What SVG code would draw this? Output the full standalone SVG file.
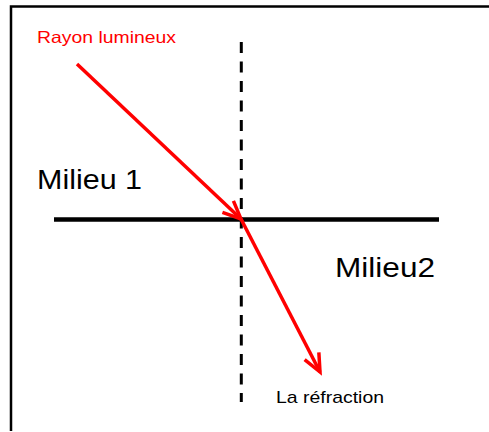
<svg xmlns="http://www.w3.org/2000/svg" width="489" height="432" viewBox="0 0 489 432">
<style>
.lbl{font-family:"Liberation Sans",Arial,sans-serif;fill:#000}
.ray{stroke:#f00;stroke-width:3.5;fill:none}
</style>
<defs>
<marker id="ah" markerUnits="userSpaceOnUse" markerWidth="40" markerHeight="40" viewBox="-25 -20 30 40" refX="0" refY="0" orient="auto" overflow="visible">
<path d="M-18,-8 L0,0 L-18,8" fill="none" stroke="#f00" stroke-width="3.5" stroke-linejoin="miter"/>
</marker>
</defs>
<rect width="489" height="432" fill="#fff"/>
<g id="frame">
<path d="M11,431 V6.5 H489" fill="none" stroke="#000" stroke-width="2.5"/>
</g>
<g id="connectors">
<line id="interface" x1="54" y1="219.5" x2="439" y2="219.5" stroke="#000" stroke-width="4.5"/>
<line id="normal" x1="241.3" y1="42" x2="241.3" y2="402" stroke="#000" stroke-width="3" stroke-dasharray="11 8.5"/>
<line id="incident" class="ray" x1="77" y1="64" x2="241" y2="219" marker-end="url(#ah)"/>
<line id="refracted" class="ray" x1="241" y1="219" x2="320" y2="372" marker-end="url(#ah)"/>
</g>
<g id="rayon"><text class="lbl" x="37" y="42.5" font-size="16.5" fill="#f00" style="fill:#f00" textLength="139" lengthAdjust="spacingAndGlyphs">Rayon lumineux</text></g>
<g id="milieu1"><text class="lbl" x="37" y="189" font-size="27" textLength="105" lengthAdjust="spacingAndGlyphs">Milieu 1</text></g>
<g id="milieu2"><text class="lbl" x="335" y="277" font-size="27" textLength="100" lengthAdjust="spacingAndGlyphs">Milieu2</text></g>
<g id="refraction"><text class="lbl" x="276" y="403" font-size="17" textLength="108" lengthAdjust="spacingAndGlyphs">La réfraction</text></g>
</svg>
